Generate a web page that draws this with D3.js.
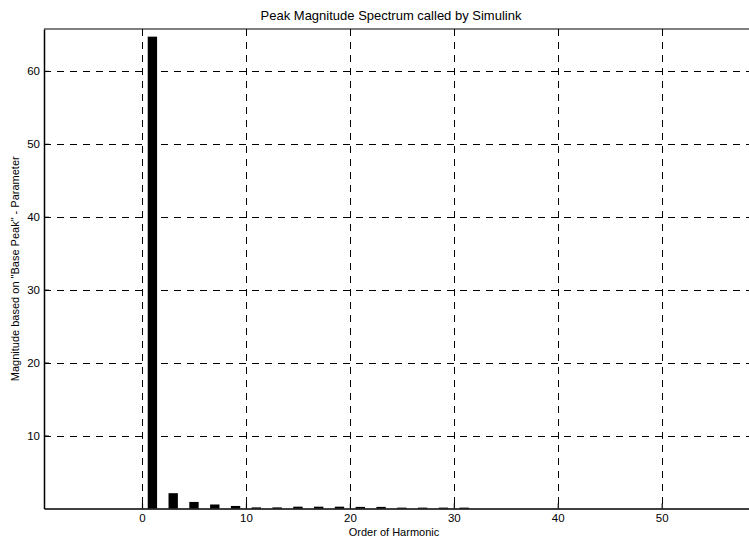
<!DOCTYPE html>
<html>
<head>
<meta charset="utf-8">
<script src="https://cdn.jsdelivr.net/npm/d3@7"></script>
<style>
  body { margin: 0; background: #fff; }
  text { font-family: "Liberation Sans", Arial, Helvetica, sans-serif; }
</style>
</head>
<body>
<div id="chart"></div>
<script>
// harmonic orders and their peak magnitudes
var harmonics = [1, 3, 5, 7, 9, 11, 13, 15, 17, 19, 21, 23, 25, 27, 29, 31];
var magnitudes = [64.7, 2.1, 0.9, 0.55, 0.35, 0.15, 0.15, 0.25, 0.25, 0.25, 0.22, 0.22, 0.12, 0.12, 0.12, 0.12];
var xTicks = [0, 10, 20, 30, 40, 50];
var yTicks = [10, 20, 30, 40, 50, 60];

var W = 749, H = 540;
var m = {left: 44, right: 749, top: 29, bottom: 508.5};

var svg = d3.select("#chart")
  .append("svg")
    .attr("width", W)
    .attr("height", H);

svg.append("rect").attr("width", W).attr("height", H).attr("fill", "#fff");

var x = d3.scaleLinear().domain([-9.43, 58.4]).range([m.left, m.right]);
var y = d3.scaleLinear().domain([0, 65.75]).range([m.bottom, m.top]);

// grid
var grid = svg.append("g")
  .attr("stroke", "#000")
  .attr("stroke-width", 1)
  .attr("stroke-dasharray", "7,6")
  .attr("shape-rendering", "crispEdges");

grid.selectAll(".vg").data(xTicks).join("line")
  .attr("x1", d => Math.round(x(d)) + 0.5).attr("x2", d => Math.round(x(d)) + 0.5)
  .attr("y1", m.top).attr("y2", m.bottom);

grid.selectAll(".hg").data(yTicks).join("line")
  .attr("y1", d => Math.round(y(d)) + 0.5).attr("y2", d => Math.round(y(d)) + 0.5)
  .attr("x1", m.left).attr("x2", m.right);

// bars
var bw = x(0.9) - x(0);
svg.append("g").selectAll("rect").data(harmonics).join("rect")
  .attr("x", (d) => x(d) - bw / 2)
  .attr("width", bw)
  .attr("y", (d, i) => y(magnitudes[i]))
  .attr("height", (d, i) => y(0) - y(magnitudes[i]))
  .attr("fill", "#000");

// axes
var xAxis = d3.axisBottom(x).tickValues(xTicks).tickSizeInner(-5).tickSizeOuter(0).tickPadding(5);
var yAxis = d3.axisLeft(y).tickValues(yTicks).tickSizeInner(-5).tickSizeOuter(0).tickPadding(4);

var gx = svg.append("g").attr("transform", "translate(0," + m.bottom + ")").call(xAxis);
var gy = svg.append("g").attr("transform", "translate(" + m.left + ",0)").call(yAxis);

[gx, gy].forEach(function (g) {
  g.select(".domain").attr("stroke", "#000").attr("stroke-width", 1.5);
  g.selectAll(".tick line").attr("stroke", "#000").attr("stroke-width", 1.2);
  g.selectAll(".tick text").attr("font-size", 11.5).attr("fill", "#000")
    .attr("font-family", "'Liberation Sans', Arial, sans-serif");
});

// top border
svg.append("line")
  .attr("x1", m.left).attr("x2", m.right)
  .attr("y1", m.top).attr("y2", m.top)
  .attr("stroke", "#000").attr("stroke-width", 1.2);

// labels
svg.append("text")
  .attr("x", 391).attr("y", 20)
  .attr("text-anchor", "middle")
  .attr("font-size", 13)
  .text("Peak Magnitude Spectrum called by Simulink");

svg.append("text")
  .attr("x", 394).attr("y", 536)
  .attr("text-anchor", "middle")
  .attr("font-size", 11)
  .text("Order of Harmonic");

svg.append("text")
  .attr("transform", "translate(19," + ((m.top + m.bottom) / 2) + ") rotate(-90)")
  .attr("text-anchor", "middle")
  .attr("font-size", 11)
  .text("Magnitude based on \"Base Peak\" - Parameter");
</script>
</body>
</html>
